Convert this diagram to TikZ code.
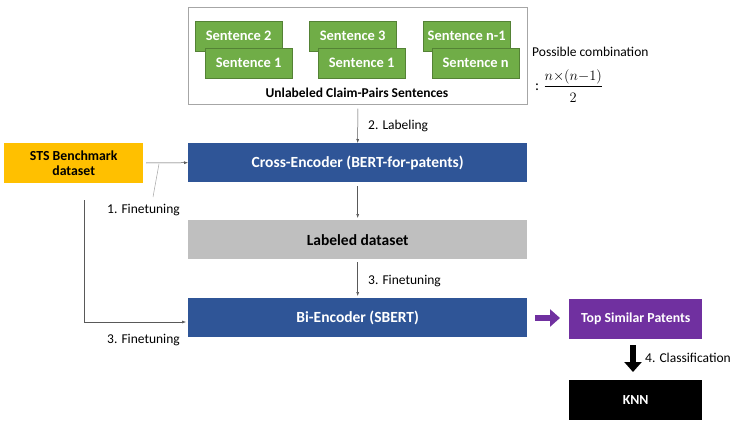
\documentclass[tikz,border=0pt]{standalone}
\usepackage{amsmath}
\usepackage{fontspec}
\setmainfont{Carlito}
\usetikzlibrary{arrows.meta,positioning}
\definecolor{sgreen}{HTML}{70AD47}
\definecolor{sgreend}{HTML}{548235}
\definecolor{sblue}{HTML}{2F5597}
\definecolor{sorange}{HTML}{FFC000}
\definecolor{sgray}{HTML}{BFBFBF}
\definecolor{spurple}{HTML}{7030A0}
\definecolor{lgray}{HTML}{A6A6A6}
\definecolor{agray}{HTML}{595959}
\tikzset{
  sentbox/.style={draw=sgreend, line width=0.4pt, fill=sgreen, text=white, font=\bfseries\fontsize{14.5}{16}\selectfont, minimum width=87pt, minimum height=30pt, inner sep=0pt, anchor=north west},
  bigbox/.style={minimum width=339pt, minimum height=39pt, inner sep=0pt, anchor=north west, font=\bfseries\fontsize{15.5}{17}\selectfont},
  sidebox/.style={minimum width=133pt, minimum height=40pt, inner sep=0pt, anchor=north west, font=\bfseries\fontsize{13.8}{15}\selectfont, text=white},
  conn/.style={draw=agray, line width=0.5pt, -{Latex[length=4pt,width=3pt]}},
  lbl/.style={font=\fontsize{13.5}{15}\selectfont, text=black, inner sep=0pt},
}
\begin{document}
\begin{tikzpicture}[x=1pt,y=-1pt]
\useasboundingbox (0,0) rectangle (744,425);
% outer container
\node[draw=lgray, line width=0.6pt, minimum width=339pt, minimum height=97pt, inner sep=0pt, anchor=north west] (pool) at (188,7) {};
% green sentence boxes
\node[sentbox] (s2) at (195,21) {Sentence 2};
\node[sentbox] (s1a) at (205,48) {Sentence 1};
\node[sentbox] (s3) at (309,21) {Sentence 3};
\node[sentbox] (s1b) at (318,48) {Sentence 1};
\node[sentbox] (sn1) at (423,21) {Sentence n-1};
\node[sentbox] (sn) at (432,48) {Sentence n};
\node[font=\bfseries\fontsize{13.5}{15}\selectfont, inner sep=0pt] (ulab) at (357,93) {Unlabeled Claim-Pairs Sentences};
% combination text
\node[lbl, anchor=west] (poss) at (532,52) {Possible combination};
\node[lbl, anchor=west, font=\fontsize{15}{17}\selectfont] (frac) at (535,86) {:\;$\dfrac{n{\times}(n{-}1)\rule[-3pt]{0pt}{3pt}}{\rule{0pt}{14pt}2}$};
% main boxes
\node[bigbox, fill=sblue, text=white] (cross) at (188,143) {Cross-Encoder (BERT-for-patents)};
\node[bigbox, fill=sgray, text=black] (lab) at (188,220) {Labeled dataset};
\node[bigbox, fill=sblue, text=white] (bi) at (188,298) {Bi-Encoder (SBERT)};
\node[sidebox, minimum width=139pt, fill=sorange, text=black, align=center, font=\bfseries\fontsize{13.8}{15}\selectfont] (sts) at (4,143) {STS Benchmark\\dataset};
\node[sidebox, fill=spurple] (top) at (569,299) {Top Similar Patents};
\node[sidebox, fill=black] (knn) at (569,380) {KNN};
% connectors
\draw[conn] ([yshift=-4pt]pool.south) -- (cross.north);
\node[lbl, anchor=west] (l2) at (368,126) {2. Labeling};
\coordinate (stsout) at (146,163);
\draw[conn] (stsout) -- (cross.west);
\node[lbl, anchor=east] (l1) at (180,210) {1. Finetuning};
\coordinate (c1a) at (159,164);
\coordinate (c1b) at (153,197);
\draw[lgray, line width=0.5pt] (c1b) -- (c1a);
\draw[conn] ([yshift=-4pt]cross.south) -- ([yshift=2pt]lab.north);
\draw[conn] ([yshift=-3pt]lab.south) -- ([yshift=2pt]bi.north);
\node[lbl, anchor=west] (l3) at (368,281) {3. Finetuning};
\coordinate (lstart) at (84,200);
\coordinate (lcorner) at (84,322);
\draw[conn] (lstart) -- (lcorner) -- ([xshift=-2pt]bi.west |- lcorner);
\node[lbl, anchor=east] (l3b) at (180,340) {3. Finetuning};
% purple fat arrow
\coordinate (pa) at (535,318);
\draw[spurple, line width=6pt, -{Triangle[length=10pt,width=17pt]}] (pa) -- ([xshift=-9pt]top.west |- pa);
% black fat arrow
\coordinate (ka) at (633,345);
\draw[black, line width=6pt, -{Triangle[length=10pt,width=17pt]}] (ka) -- ([yshift=8pt]knn.north -| ka);
\node[lbl, anchor=west] (l4) at (645,358) {4. Classification};
\end{tikzpicture}
\end{document}
